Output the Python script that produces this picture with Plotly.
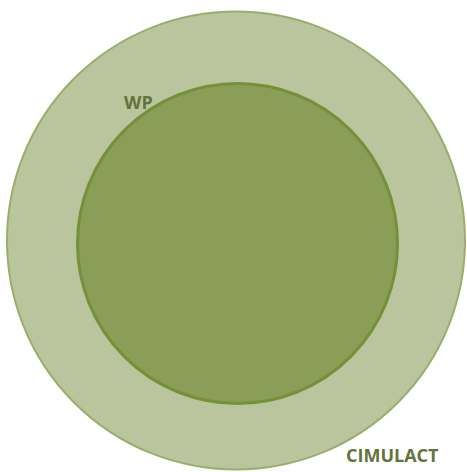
import plotly.graph_objects as go

# Data: nested sets (outer contains inner)
set_names = ["CIMULACT", "WP"]
set_radii = [229, 160]

# Layout / style (pixel-space coordinates)
W, H = 467, 472
centers = [(236, 240.5), (237.5, 243.5)]
fills = ["#bac59d", "#8b9e58"]
borders = ["#9aae6c", "#76903a"]
border_w = [2, 3]
label_pos = [(392, 455), (138, 102)]

fig = go.Figure()
shapes = []
for (cx, cy), r, fc, bc, bw in zip(centers, set_radii, fills, borders, border_w):
    shapes.append(dict(type="circle", xref="x", yref="y",
                       x0=cx - r, x1=cx + r, y0=cy - r, y1=cy + r,
                       fillcolor=fc, line=dict(color=bc, width=bw), layer="below"))

annotations = []
for name, (lx, ly) in zip(set_names, label_pos):
    annotations.append(dict(x=lx, y=ly, xref="x", yref="y", text="<b>%s</b>" % name,
                            showarrow=False, font=dict(family="Open Sans", size=18, color="#64733a")))

fig.add_trace(go.Scatter(x=[0, W], y=[0, H], mode="markers", marker=dict(opacity=0),
                         hoverinfo="skip", showlegend=False))
fig.update_layout(width=W, height=H, margin=dict(l=0, r=0, t=0, b=0),
                  paper_bgcolor="white", plot_bgcolor="white",
                  shapes=shapes, annotations=annotations,
                  xaxis=dict(range=[0, W], visible=False, fixedrange=True),
                  yaxis=dict(range=[H, 0], visible=False, fixedrange=True))
fig.write_html("out.html", config={"displayModeBar": False},
               post_script="document.body.style.margin='0';document.body.style.overflow='hidden';")
